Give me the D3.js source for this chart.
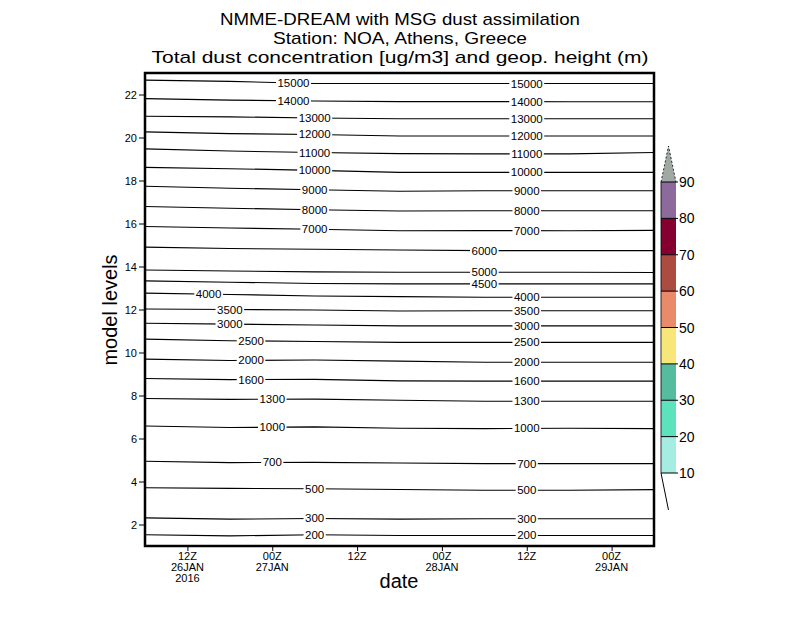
<!DOCTYPE html>
<html>
<head>
<meta charset="utf-8">
<script src="https://cdn.jsdelivr.net/npm/d3@7"></script>
<style>
  body { margin: 0; background: #fff; }
  text { font-family: "Liberation Sans", Arial, sans-serif; fill: #000; }
</style>
</head>
<body>
<svg id="chart" width="800" height="618"></svg>
<script>
// hours after 26JAN2016 06Z where the contour heights were read
const hours = [0, 12, 24, 36, 48, 60, 72];

// geopotential height isolines (m)
const heights = [15000, 14000, 13000, 12000, 11000, 10000, 9000, 8000, 7000, 6000,
                 5000, 4500, 4000, 3500, 3000, 2500, 2000, 1600, 1300, 1000, 700, 500, 300, 200];

// model level of each isoline at each of the hours above
const isoLevels = [
  [22.67, 22.61, 22.51, 22.51, 22.51, 22.51, 22.51],
  [21.81, 21.74, 21.70, 21.67, 21.67, 21.66, 21.66],
  [20.99, 20.96, 20.91, 20.87, 20.87, 20.87, 20.87],
  [20.26, 20.18, 20.14, 20.07, 20.07, 20.07, 20.07],
  [19.47, 19.37, 19.30, 19.25, 19.24, 19.24, 19.30],
  [18.61, 18.55, 18.47, 18.38, 18.38, 18.38, 18.38],
  [17.73, 17.64, 17.57, 17.50, 17.52, 17.52, 17.52],
  [16.79, 16.71, 16.64, 16.58, 16.59, 16.59, 16.59],
  [15.86, 15.79, 15.73, 15.66, 15.67, 15.66, 15.68],
  [14.90, 14.84, 14.80, 14.77, 14.74, 14.74, 14.74],
  [13.84, 13.79, 13.75, 13.73, 13.73, 13.73, 13.72],
  [13.33, 13.27, 13.21, 13.19, 13.19, 13.19, 13.19],
  [12.76, 12.70, 12.63, 12.60, 12.57, 12.57, 12.57],
  [12.02, 12.00, 11.98, 11.93, 11.94, 11.94, 11.94],
  [11.36, 11.32, 11.28, 11.24, 11.24, 11.24, 11.24],
  [10.62, 10.55, 10.51, 10.47, 10.47, 10.47, 10.47],
  [9.69, 9.63, 9.65, 9.60, 9.55, 9.55, 9.55],
  [8.79, 8.74, 8.75, 8.68, 8.67, 8.67, 8.67],
  [7.86, 7.82, 7.83, 7.78, 7.73, 7.73, 7.73],
  [6.58, 6.51, 6.54, 6.48, 6.46, 6.48, 6.46],
  [4.94, 4.88, 4.89, 4.86, 4.83, 4.83, 4.83],
  [3.71, 3.68, 3.66, 3.63, 3.59, 3.59, 3.62],
  [2.31, 2.25, 2.28, 2.25, 2.27, 2.27, 2.27],
  [1.52, 1.47, 1.52, 1.49, 1.49, 1.49, 1.49]
];

// hours where each isoline carries a label
const labelHours = [
  [21, 54], [21, 54], [24, 54], [24, 54], [24, 54], [24, 54], [24, 54], [24, 54], [24, 54],
  [48], [48], [48],
  [9, 54], [12, 54], [12, 54], [15, 54], [15, 54], [15, 54],
  [18, 54], [18, 54], [18, 54], [24, 54], [24, 54], [24, 54]
];

// dust concentration colour scale (ug/m3)
const dustBreaks = [10, 20, 30, 40, 50, 60, 70, 80, 90];
const dustColors = ["#a5ede3", "#5ce3be", "#56bc9e", "#f7e77b", "#e98a6a", "#ac4c41", "#850030", "#8d6a9c"];
const dustTopColor = "#a0a8a4";

const yTicks = [2, 4, 6, 8, 10, 12, 14, 16, 18, 20, 22];
const titleLines = ["NMME-DREAM with MSG dust assimilation",
                    "Station: NOA, Athens, Greece",
                    "Total dust concentration [ug/m3] and geop. height (m)"];

const t0 = Date.UTC(2016, 0, 26, 6);
const hourMs = 3600 * 1000;

const svg = d3.select("#chart");
const pLeft = 145, pRight = 654, pTop = 73, pBottom = 546;

const x = d3.scaleUtc()
  .domain([new Date(t0), new Date(t0 + 72 * hourMs)])
  .range([pLeft, pRight]);
const y = d3.scaleLinear().domain([1, 23]).range([pBottom, pTop]);

// titles
const titleWidths = [360, 254, 497];
titleLines.forEach(function(t, i) {
  svg.append("text")
    .attr("x", 400).attr("y", 25 + i * 19)
    .attr("text-anchor", "middle")
    .attr("font-size", 17)
    .attr("textLength", titleWidths[i])
    .attr("lengthAdjust", "spacingAndGlyphs")
    .text(t);
});

// isolines
const line = d3.line()
  .x(function(d) { return x(new Date(t0 + d[0] * hourMs)); })
  .y(function(d) { return y(d[1]); });

const lineLayer = svg.append("g");
const labelLayer = svg.append("g");
heights.forEach(function(h, i) {
  const pts = hours.map(function(hr, j) { return [hr, isoLevels[i][j]]; });
  lineLayer.append("path")
    .attr("d", line(pts))
    .attr("fill", "none")
    .attr("stroke", "#000")
    .attr("stroke-width", 1.1);

  labelHours[i].forEach(function(lh) {
    const lev = d3.scaleLinear().domain(hours).range(isoLevels[i])(lh);
    const lx = x(new Date(t0 + lh * hourMs)), ly = y(lev);
    const g = labelLayer.append("g");
    const bg = g.append("rect").attr("fill", "#fff");
    const txt = g.append("text")
      .attr("x", lx).attr("y", ly)
      .attr("text-anchor", "middle")
      .attr("dominant-baseline", "central")
      .attr("font-size", 11.5)
      .text(h);
    const bb = txt.node().getBBox();
    bg.attr("x", bb.x - 1.5).attr("y", ly - 4)
      .attr("width", bb.width + 3).attr("height", 8);
  });
});

// frame
svg.append("rect")
  .attr("x", pLeft).attr("y", pTop)
  .attr("width", pRight - pLeft).attr("height", pBottom - pTop)
  .attr("fill", "none").attr("stroke", "#000").attr("stroke-width", 2.5);

// y axis
const yAxis = svg.append("g")
  .attr("transform", "translate(" + (pLeft - 1) + ",0)")
  .call(d3.axisLeft(y).tickValues(yTicks).tickSize(5).tickPadding(2));
yAxis.select(".domain").remove();
yAxis.selectAll("text").attr("font-size", 11).attr("font-family", "Liberation Sans, Arial, sans-serif");

// x axis
const xTicks = d3.range(6, 72, 12).map(function(hr) { return new Date(t0 + hr * hourMs); });
const xAxis = svg.append("g")
  .attr("transform", "translate(0," + (pBottom + 1) + ")")
  .call(d3.axisBottom(x).tickValues(xTicks).tickSize(4).tickFormat(""));
xAxis.select(".domain").remove();
const months = ["JAN", "FEB", "MAR", "APR", "MAY", "JUN", "JUL", "AUG", "SEP", "OCT", "NOV", "DEC"];
xTicks.forEach(function(d, i) {
  const hh = d.getUTCHours();
  const rows = [(hh < 10 ? "0" : "") + hh + "Z"];
  if (i === 0 || hh === 0) rows.push(String(d.getUTCDate()).padStart(2, "0") + months[d.getUTCMonth()]);
  if (i === 0) rows.push(String(d.getUTCFullYear()));
  rows.forEach(function(r, k) {
    svg.append("text")
      .attr("x", x(d)).attr("y", 560 + k * 11)
      .attr("text-anchor", "middle")
      .attr("font-size", 11)
      .text(r);
  });
});

// axis titles
svg.append("text")
  .attr("transform", "translate(117,310) rotate(-90)")
  .attr("text-anchor", "middle")
  .attr("font-size", 20)
  .text("model levels");
svg.append("text")
  .attr("x", 399).attr("y", 588)
  .attr("text-anchor", "middle")
  .attr("font-size", 20)
  .text("date");

// colour bar
const cb = d3.scaleLinear().domain([10, 90]).range([473, 182]);
const cbx = 661, cbw = 15;
const bar = svg.append("g");
dustColors.forEach(function(c, i) {
  bar.append("rect")
    .attr("x", cbx).attr("y", cb(dustBreaks[i + 1]))
    .attr("width", cbw).attr("height", cb(dustBreaks[i]) - cb(dustBreaks[i + 1]))
    .attr("fill", c);
});
const tri = [[cbx, cb(90)], [cbx + cbw / 2, cb(90) - 36], [cbx + cbw, cb(90)]];
bar.append("path")
  .attr("d", d3.line()(tri) + "Z")
  .attr("fill", dustTopColor);
bar.append("path")
  .attr("d", d3.line()(tri))
  .attr("fill", "none")
  .attr("stroke", "#000").attr("stroke-width", 0.8).attr("stroke-dasharray", "2,2");
bar.append("line")
  .attr("x1", cbx).attr("y1", cb(10))
  .attr("x2", cbx + cbw / 2).attr("y2", cb(10) + 37)
  .attr("stroke", "#000");
bar.append("line")
  .attr("x1", cbx).attr("y1", cb(10)).attr("x2", cbx).attr("y2", cb(90))
  .attr("stroke", "#000").attr("stroke-width", 0.8);
dustBreaks.forEach(function(b) {
  bar.append("line")
    .attr("x1", cbx).attr("x2", cbx + cbw + 2)
    .attr("y1", cb(b)).attr("y2", cb(b))
    .attr("stroke", "#000");
  bar.append("text")
    .attr("x", cbx + cbw + 3).attr("y", cb(b))
    .attr("dominant-baseline", "central")
    .attr("font-size", 14)
    .text(b);
});
</script>
</body>
</html>
